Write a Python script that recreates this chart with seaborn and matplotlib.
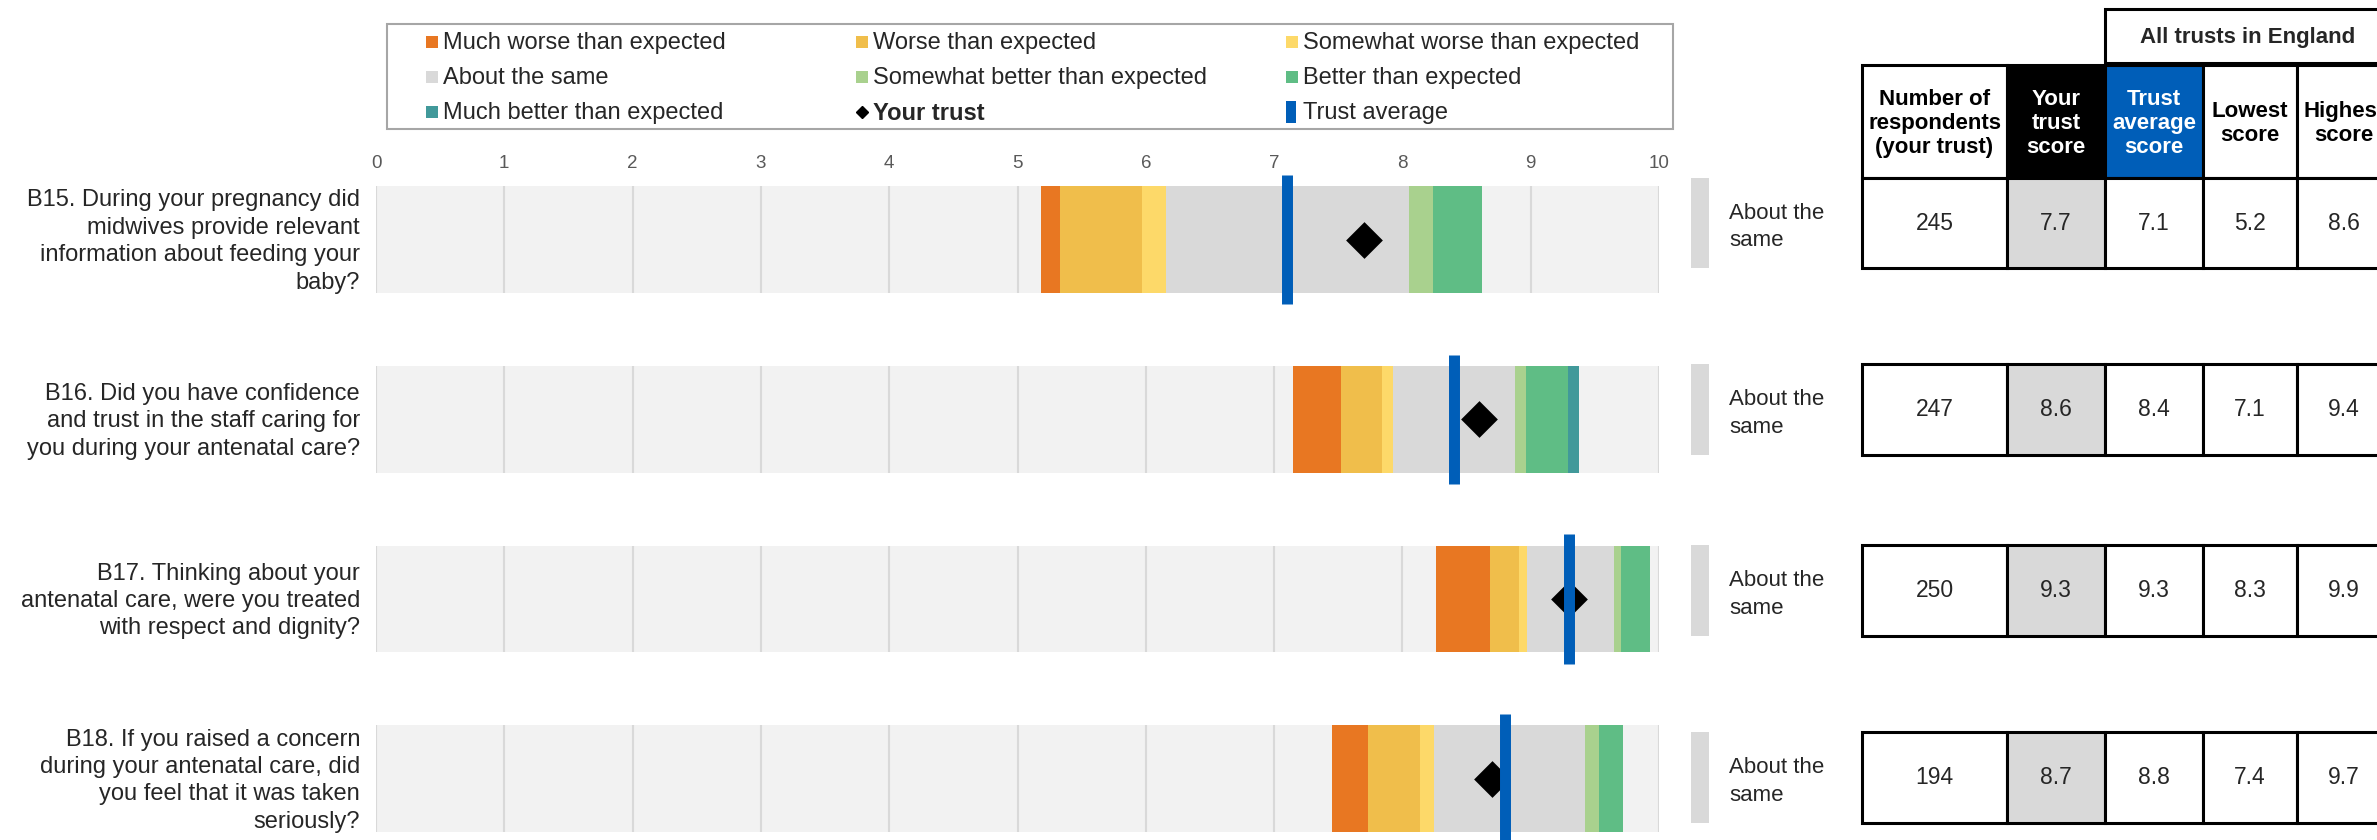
import matplotlib
matplotlib.use('Agg')
import matplotlib.pyplot as plt
from matplotlib.patches import Rectangle
import numpy as np
import pandas as pd
import seaborn as sns

# ---- data ----
questions = [
    "B15. During your pregnancy did\nmidwives provide relevant\ninformation about feeding your\nbaby?",
    "B16. Did you have confidence\nand trust in the staff caring for\nyou during your antenatal care?",
    "B17. Thinking about your\nantenatal care, were you treated\nwith respect and dignity?",
    "B18. If you raised a concern\nduring your antenatal care, did\nyou feel that it was taken\nseriously?",
]
respondents = [245, 247, 250, 194]
your_score = [7.7, 8.6, 9.3, 8.7]
trust_avg = [7.1, 8.4, 9.3, 8.8]
lowest = [5.2, 7.1, 8.3, 7.4]
highest = [8.6, 9.4, 9.9, 9.7]
verdict = ["About the\nsame"] * 4

# band edges (start of first band, then right edge of each band)
band_start = [5.18, 7.15, 8.26, 7.45]
much_worse_end = [5.33, 7.52, 8.68, 7.73]
worse_end = [5.97, 7.84, 8.91, 8.14]
somewhat_worse_end = [6.16, 7.93, 8.97, 8.25]
same_end = [8.05, 8.88, 9.65, 9.42]
somewhat_better_end = [8.24, 8.96, 9.70, 9.53]
better_end = [8.62, 9.29, 9.93, 9.72]
much_better_end = [8.62, 9.38, 9.93, 9.72]

band_labels = ['Much worse than expected', 'Worse than expected',
               'Somewhat worse than expected', 'About the same',
               'Somewhat better than expected', 'Better than expected',
               'Much better than expected']
header_labels = ["Number of\nrespondents\n(your trust)", "Your\ntrust\nscore",
                 "Trust\naverage\nscore", "Lowest\nscore", "Highest\nscore"]

# ---- styles / layout ----
band_colors = ['#E87722', '#F0BE4B', '#FDD969', '#D9D9D9',
               '#A9D18E', '#5FBD85', '#41999A']
BLUE = '#005EB8'
BG = '#F2F2F2'
GRID = '#D9D9D9'
W, H = 2377, 840
BAR_H = 0.595
ROW0, ROW_STEP = 239.6, 179.7   # pixel centre of first row, row spacing

sns.set_style('white')
plt.rcParams['font.family'] = ['Liberation Sans', 'DejaVu Sans']

fig = plt.figure(figsize=(W / 100, H / 100), dpi=100)

# overlay axes in pixel coordinates for legend, labels and table
ov = fig.add_axes([0, 0, 1, 1])
ov.set_xlim(0, W)
ov.set_ylim(H, 0)
ov.axis('off')

# main bar axes: x 0..10 -> px 376..1659
ax_top, ax_bot = 178, 840
ax = fig.add_axes([376 / W, 0, 1283 / W, (ax_bot - ax_top) / H])

df = pd.DataFrame({'question': questions, 'full': [10] * len(questions)})
sns.barplot(data=df, x='full', y='question', orient='h', color=BG,
            saturation=1, width=BAR_H, linewidth=0, ax=ax, zorder=1)

ypos = np.arange(len(questions))

# gridlines only inside each row's bar
for y in ypos:
    ax.vlines(range(11), y - BAR_H / 2, y + BAR_H / 2, color=GRID,
              lw=1.5, zorder=1.5)

edges = [band_start, much_worse_end, worse_end, somewhat_worse_end, same_end,
         somewhat_better_end, better_end, much_better_end]
for i, col in enumerate(band_colors):
    left = np.array(edges[i])
    right = np.array(edges[i + 1])
    ax.barh(ypos, right - left, left=left, height=BAR_H, color=col,
            linewidth=0, zorder=2)

sns.scatterplot(x=your_score, y=ypos, marker='D', s=350, color='black',
                linewidth=0, ax=ax, zorder=3, legend=False)
ax.vlines(trust_avg, ypos - 0.359, ypos + 0.359, color=BLUE, lw=7.9,
          zorder=4, clip_on=False)

ax.set_xlim(0, 10)
ax.set_ylim(3 + (ax_bot - (ROW0 + 3 * ROW_STEP)) / ROW_STEP,
            -(ROW0 - ax_top) / ROW_STEP)
ax.xaxis.tick_top()
ax.set_xticks(range(11))
ax.tick_params(axis='x', length=0, pad=4, labelsize=13.5, labelcolor='#595959')
ax.set_yticks([])
ax.set_xlabel('')
ax.set_ylabel('')
sns.despine(ax=ax, left=True, bottom=True, top=True, right=True)

# question labels, right aligned left of the bars
for r, q in enumerate(questions):
    ov.text(360, ROW0 + r * ROW_STEP + 2, q, fontsize=17, ha='right',
            va='center', multialignment='right', linespacing=1.32)

# ---- legend (drawn in pixel space) ----
ov.add_patch(Rectangle((387, 24), 1673 - 387, 129 - 24, facecolor='white',
                       edgecolor='#A6A6A6', lw=1.5))
leg_x = [426, 856, 1286]
leg_y = [42, 77, 112]
items = [(lab, col) for lab, col in zip(band_labels, band_colors)]
items += [('Your trust', 'diamond'), ('Trust average', 'avg')]
for k, (lab, kind) in enumerate(items):
    x0 = leg_x[k % 3]
    y0 = leg_y[k // 3]
    weight = 'normal'
    if kind == 'diamond':
        ov.plot([x0 + 6], [y0], marker='D', ms=6, color='black', ls='none')
        weight = 'bold'
    elif kind == 'avg':
        ov.add_patch(Rectangle((x0, y0 - 11), 10, 22, color=BLUE, lw=0))
    else:
        ov.add_patch(Rectangle((x0, y0 - 6), 12, 12, color=kind, lw=0))
    ov.text(x0 + 17, y0 + 1, lab, fontsize=17, va='center', ha='left',
            fontweight=weight)

# ---- table ----
col_x = [1862, 2007, 2105, 2203, 2297, 2391]
header_y = (65, 178)
row_y = [(178, 268), (364, 455), (545, 636), (732, 823)]
head_face = ['white', 'black', BLUE, 'white', 'white']
head_text = ['black', 'white', 'white', 'black', 'black']
cell_face = ['white', '#D9D9D9', 'white', 'white', 'white']
LW = 2.2

ov.add_patch(Rectangle((col_x[2], 9), col_x[5] - col_x[2], 63 - 9,
                       facecolor='white', edgecolor='black', lw=LW))
ov.text((col_x[2] + col_x[5]) / 2, 37, 'All trusts in England', fontsize=16,
        fontweight='bold', ha='center', va='center')

for c in range(5):
    x0, x1 = col_x[c], col_x[c + 1]
    ov.add_patch(Rectangle((x0, header_y[0]), x1 - x0, header_y[1] - header_y[0],
                           facecolor=head_face[c], edgecolor='black', lw=LW))
    ov.text((x0 + x1) / 2, (header_y[0] + header_y[1]) / 2 + 2, header_labels[c],
            fontsize=16, fontweight='bold', color=head_text[c],
            ha='center', va='center', linespacing=1.2)

for r in range(len(questions)):
    y0, y1 = row_y[r]
    vals = [str(respondents[r]), f'{your_score[r]:.1f}', f'{trust_avg[r]:.1f}',
            f'{lowest[r]:.1f}', f'{highest[r]:.1f}']
    for c in range(5):
        x0, x1 = col_x[c], col_x[c + 1]
        ov.add_patch(Rectangle((x0, y0), x1 - x0, y1 - y0,
                               facecolor=cell_face[c], edgecolor='black', lw=LW))
        ov.text((x0 + x1) / 2, (y0 + y1) / 2, vals[c], fontsize=16.5,
                ha='center', va='center')
    # comparison verdict
    ov.add_patch(Rectangle((1691, y0), 18, y1 - y0, color='#D9D9D9', lw=0))
    ov.text(1729, (y0 + y1) / 2 + 4, verdict[r], fontsize=16, ha='left',
            va='center', linespacing=1.4)

fig.savefig('out.png', dpi=100)
plt.close(fig)
